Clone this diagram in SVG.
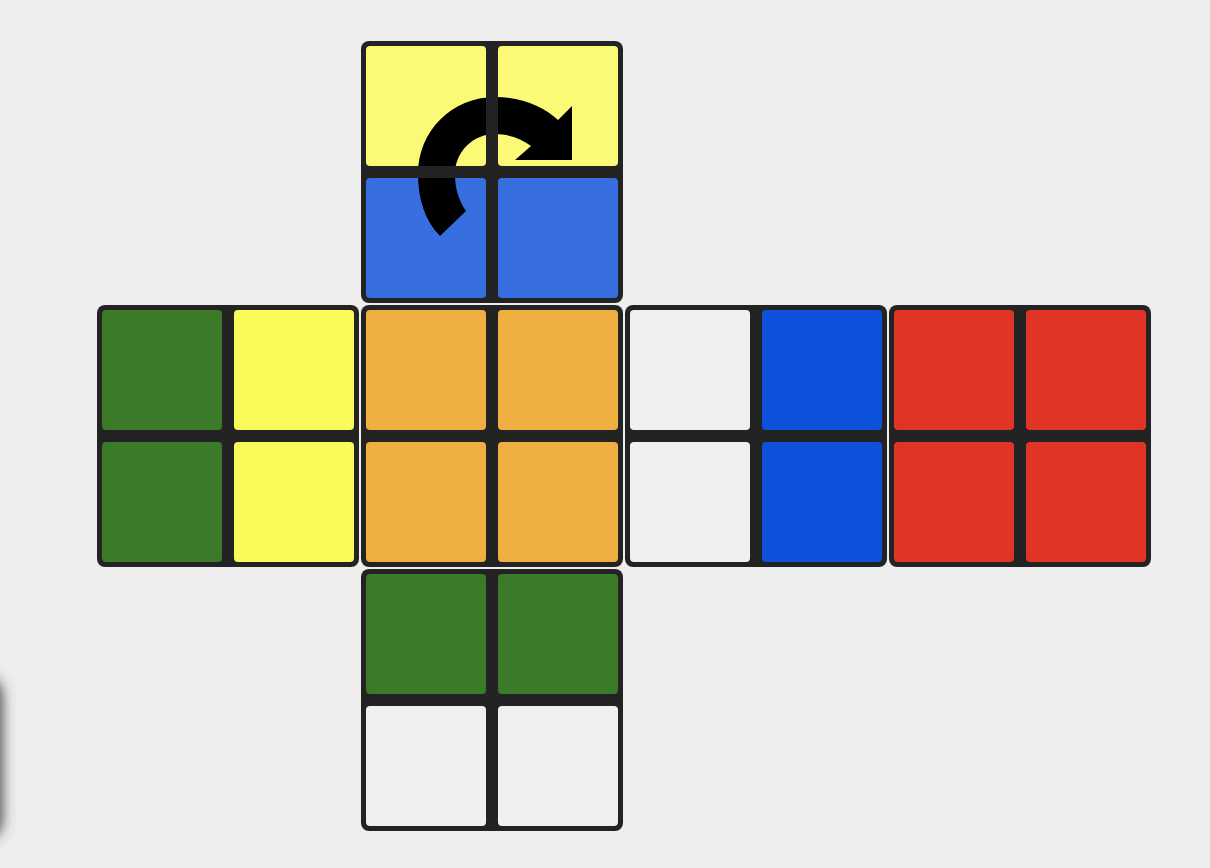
<svg xmlns="http://www.w3.org/2000/svg" width="1210" height="868" viewBox="0 0 1210 868">
  <style>
    .face { fill: #232323; }
    .c { stroke: none; }
    .yl { fill: #fafa76; }
    .y { fill: #fafa58; }
    .bl { fill: #386fe0; }
    .b { fill: #0d51dc; }
    .g { fill: #3a7a28; }
    .o { fill: #f0b041; }
    .w { fill: #f0f0f0; }
    .r { fill: #e03526; }
    .arrow { fill: #000000; }
  </style>
  <defs>
    <filter id="blur" x="-1" y="-1" width="3" height="3">
      <feGaussianBlur stdDeviation="7"/>
    </filter>
    <clipPath id="topCells">
      <rect x="366" y="46" width="120" height="120" rx="4"/>
      <rect x="498" y="46" width="120" height="120" rx="4"/>
      <rect x="366" y="178" width="120" height="120" rx="4"/>
      <rect x="498" y="178" width="120" height="120" rx="4"/>
    </clipPath>
  </defs>
  <rect width="1210" height="868" fill="#eeeeee"/>
  <g id="edge-shadow">
    <rect x="-44" y="676" width="46" height="164" rx="20" fill="#444" filter="url(#blur)"/>
  </g>

  <g id="face-top">
    <rect class="face" x="361" y="41" width="262" height="262" rx="8"/>
    <rect class="c yl" x="366" y="46" width="120" height="120" rx="4"/>
    <rect class="c yl" x="498" y="46" width="120" height="120" rx="4"/>
    <rect class="c bl" x="366" y="178" width="120" height="120" rx="4"/>
    <rect class="c bl" x="498" y="178" width="120" height="120" rx="4"/>
  </g>
  <g id="face-left">
    <rect class="face" x="97" y="305" width="262" height="262" rx="8"/>
    <rect class="c g" x="102" y="310" width="120" height="120" rx="4"/>
    <rect class="c y" x="234" y="310" width="120" height="120" rx="4"/>
    <rect class="c g" x="102" y="442" width="120" height="120" rx="4"/>
    <rect class="c y" x="234" y="442" width="120" height="120" rx="4"/>
  </g>
  <g id="face-front">
    <rect class="face" x="361" y="305" width="262" height="262" rx="8"/>
    <rect class="c o" x="366" y="310" width="120" height="120" rx="4"/>
    <rect class="c o" x="498" y="310" width="120" height="120" rx="4"/>
    <rect class="c o" x="366" y="442" width="120" height="120" rx="4"/>
    <rect class="c o" x="498" y="442" width="120" height="120" rx="4"/>
  </g>
  <g id="face-right">
    <rect class="face" x="625" y="305" width="262" height="262" rx="8"/>
    <rect class="c w" x="630" y="310" width="120" height="120" rx="4"/>
    <rect class="c b" x="762" y="310" width="120" height="120" rx="4"/>
    <rect class="c w" x="630" y="442" width="120" height="120" rx="4"/>
    <rect class="c b" x="762" y="442" width="120" height="120" rx="4"/>
  </g>
  <g id="face-back">
    <rect class="face" x="889" y="305" width="262" height="262" rx="8"/>
    <rect class="c r" x="894" y="310" width="120" height="120" rx="4"/>
    <rect class="c r" x="1026" y="310" width="120" height="120" rx="4"/>
    <rect class="c r" x="894" y="442" width="120" height="120" rx="4"/>
    <rect class="c r" x="1026" y="442" width="120" height="120" rx="4"/>
  </g>
  <g id="face-bottom">
    <rect class="face" x="361" y="569" width="262" height="262" rx="8"/>
    <rect class="c g" x="366" y="574" width="120" height="120" rx="4"/>
    <rect class="c g" x="498" y="574" width="120" height="120" rx="4"/>
    <rect class="c w" x="366" y="706" width="120" height="120" rx="4"/>
    <rect class="c w" x="498" y="706" width="120" height="120" rx="4"/>
  </g>

  <g id="turn-arrow" clip-path="url(#topCells)">
    <path class="arrow" d="M440,236 C425,221 418,199 418,174 C418,131 452,97 495,97 C521,97 544,107 558,120 L572,106 L572,160 L515,160 L531,146 C522,139 509,134 495,134 C473,134 455,152 455,174 C455,189 459,201 466,211 Z"/>
  </g>
</svg>
